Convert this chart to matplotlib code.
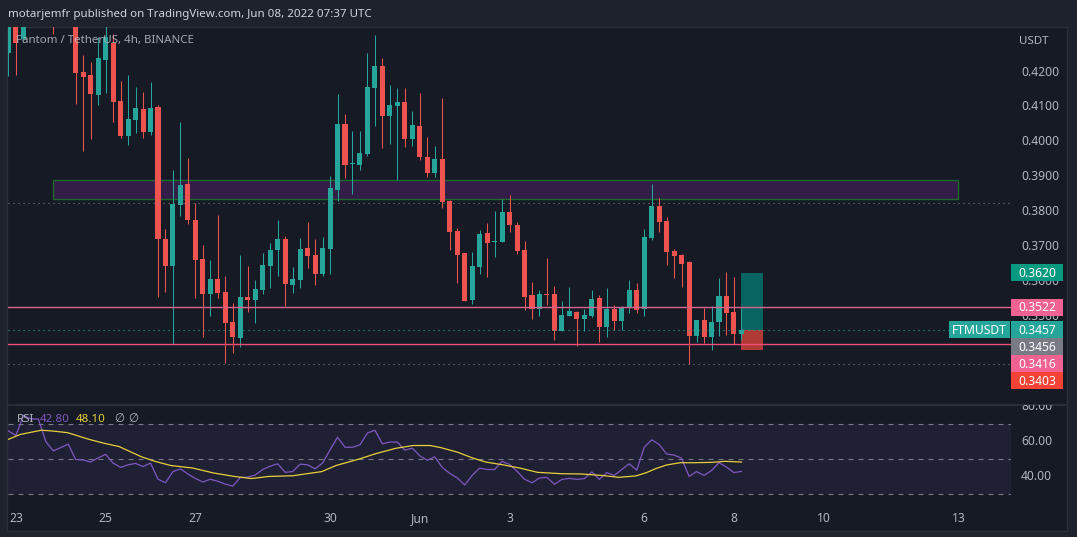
import numpy as np
import matplotlib.pyplot as plt
from matplotlib.patches import Rectangle
from matplotlib.transforms import Bbox, TransformedBbox

plt.rcParams['font.family'] = ['Noto Sans', 'DejaVu Sans']

# FTM/USDT 4h candles (first ones run above the pane)
opens = [0.4251, 0.4340, 0.4290, 0.4345, 0.4372, 0.4410, 0.4380, 0.4345, 0.4366, 0.4355,
         0.4195, 0.4187, 0.4130, 0.4231, 0.4278, 0.4112, 0.4012, 0.4058, 0.4089, 0.4023,
         0.4095, 0.3717, 0.3640, 0.3815, 0.3875, 0.3771, 0.3660, 0.3560, 0.3602, 0.3565,
         0.3479, 0.3434, 0.3551, 0.3543, 0.3572, 0.3640, 0.3686, 0.3717, 0.3586, 0.3600,
         0.3691, 0.3671, 0.3618, 0.3688, 0.3858, 0.4046, 0.3931, 0.3930, 0.3961, 0.4150,
         0.4213, 0.4071, 0.4099, 0.4110, 0.4005, 0.4041, 0.3952, 0.3907, 0.3946, 0.3826,
         0.3740, 0.3677, 0.3543, 0.3638, 0.3734, 0.3709, 0.3709, 0.3794, 0.3757, 0.3685,
         0.3556, 0.3517, 0.3560, 0.3559, 0.3454, 0.3497, 0.3508, 0.3489, 0.3496, 0.3548,
         0.3466, 0.3516, 0.3483, 0.3520, 0.3571, 0.3516, 0.3721, 0.3812, 0.3769, 0.3683,
         0.3671, 0.3651, 0.3440, 0.3485, 0.3437, 0.3480, 0.3554, 0.3508, 0.3446]
highs = [0.4365, 0.4352, 0.4362, 0.4400, 0.4440, 0.4445, 0.4400, 0.4390, 0.4385, 0.4370,
         0.4244, 0.4224, 0.4296, 0.4330, 0.4304, 0.4170, 0.4187, 0.4152, 0.4138, 0.4167,
         0.4101, 0.3746, 0.3915, 0.4052, 0.3949, 0.3819, 0.3700, 0.3657, 0.3786, 0.3611,
         0.3534, 0.3671, 0.3640, 0.3600, 0.3677, 0.3705, 0.3771, 0.3725, 0.3637, 0.3720,
         0.3766, 0.3717, 0.3723, 0.3898, 0.4134, 0.4075, 0.4026, 0.4026, 0.4250, 0.4302,
         0.4236, 0.4158, 0.4150, 0.4150, 0.4084, 0.4135, 0.4009, 0.3984, 0.4121, 0.3830,
         0.3749, 0.3677, 0.3680, 0.3743, 0.3763, 0.3797, 0.3832, 0.3843, 0.3766, 0.3711,
         0.3594, 0.3571, 0.3663, 0.3582, 0.3539, 0.3580, 0.3511, 0.3516, 0.3571, 0.3556,
         0.3577, 0.3528, 0.3525, 0.3600, 0.3591, 0.3746, 0.3875, 0.3835, 0.3780, 0.3688,
         0.3674, 0.3654, 0.3485, 0.3519, 0.3525, 0.3605, 0.3622, 0.3608, 0.3519]
lows = [0.4185, 0.4187, 0.4288, 0.4330, 0.4355, 0.4360, 0.4306, 0.4330, 0.4335, 0.4104,
        0.3970, 0.4004, 0.4102, 0.4136, 0.4053, 0.4007, 0.3987, 0.4022, 0.4007, 0.4016,
        0.3552, 0.3566, 0.3416, 0.3784, 0.3760, 0.3549, 0.3437, 0.3497, 0.3549, 0.3363,
        0.3391, 0.3408, 0.3509, 0.3477, 0.3560, 0.3577, 0.3612, 0.3526, 0.3563, 0.3577,
        0.3634, 0.3585, 0.3612, 0.3618, 0.3827, 0.3893, 0.3847, 0.3916, 0.3956, 0.4042,
        0.3979, 0.3990, 0.3886, 0.3982, 0.3985, 0.3944, 0.3896, 0.3896, 0.3807, 0.3686,
        0.3592, 0.3540, 0.3532, 0.3618, 0.3609, 0.3666, 0.3709, 0.3737, 0.3675, 0.3515,
        0.3489, 0.3497, 0.3529, 0.3429, 0.3454, 0.3497, 0.3412, 0.3454, 0.3494, 0.3423,
        0.3437, 0.3457, 0.3457, 0.3506, 0.3506, 0.3497, 0.3715, 0.3738, 0.3642, 0.3606,
        0.3580, 0.3360, 0.3423, 0.3420, 0.3400, 0.3440, 0.3443, 0.3417, 0.3429]
closes = [0.4340, 0.4279, 0.4345, 0.4372, 0.4410, 0.4380, 0.4345, 0.4366, 0.4355, 0.4193,
          0.4182, 0.4133, 0.4235, 0.4297, 0.4111, 0.4012, 0.4061, 0.4092, 0.4023, 0.4092,
          0.3718, 0.3640, 0.3818, 0.3872, 0.3771, 0.3657, 0.3560, 0.3602, 0.3563, 0.3477,
          0.3437, 0.3551, 0.3542, 0.3574, 0.3642, 0.3685, 0.3717, 0.3589, 0.3602, 0.3688,
          0.3668, 0.3618, 0.3691, 0.3863, 0.4046, 0.3929, 0.3932, 0.3963, 0.4152, 0.4213,
          0.4071, 0.4101, 0.4110, 0.4005, 0.4044, 0.3953, 0.3907, 0.3946, 0.3824, 0.3738,
          0.3672, 0.3540, 0.3640, 0.3731, 0.3706, 0.3710, 0.3794, 0.3757, 0.3684, 0.3552,
          0.3517, 0.3559, 0.3558, 0.3455, 0.3499, 0.3511, 0.3489, 0.3499, 0.3545, 0.3466,
          0.3516, 0.3483, 0.3522, 0.3571, 0.3514, 0.3723, 0.3812, 0.3767, 0.3681, 0.3669,
          0.3646, 0.3440, 0.3485, 0.3437, 0.3479, 0.3554, 0.3506, 0.3446, 0.3457]

rsi = [66.1, 63.5, 75.0, 73.0, 73.0, 60.0, 54.6, 56.5, 58.5, 49.6,
       49.4, 48.2, 50.6, 52.6, 47.6, 45.1, 46.6, 47.4, 45.6, 47.6,
       38.3, 36.3, 42.7, 44.3, 41.3, 38.7, 36.7, 38.3, 37.1, 35.5,
       34.3, 39.3, 39.5, 40.7, 43.9, 45.8, 47.2, 42.3, 42.7, 47.0,
       46.6, 44.3, 47.6, 55.2, 62.5, 56.7, 56.7, 58.1, 64.9, 66.5,
       58.7, 59.7, 59.7, 55.0, 56.2, 51.8, 49.2, 51.2, 45.1, 41.7,
       39.1, 35.0, 40.5, 44.7, 43.9, 43.9, 48.6, 46.8, 42.9, 38.3,
       36.3, 39.0, 39.4, 35.4, 38.2, 38.8, 38.2, 38.6, 42.5, 38.2,
       42.1, 40.5, 43.9, 47.2, 43.5, 56.7, 61.0, 58.3, 52.8, 52.2,
       50.4, 39.9, 42.7, 40.5, 43.3, 47.8, 45.3, 42.1, 42.8]

# RSI moving average, read at points along the yellow line
ma_x = [-0.1, 1.6, 4.4, 5.8, 7.9, 10.9, 12.7, 14.8, 17.8, 19.6, 21.7, 24.7, 27.4, 30.2, 32.5,
        34.8, 38.0, 41.9, 43.8, 46.8, 49.1, 51.8, 54.1, 56.4, 57.8, 60.1, 62.0, 63.8, 66.1,
        68.4, 70.7, 73.8, 76.6, 79.3, 81.6, 83.9, 85.3, 86.6, 88.0, 89.8, 91.7, 94.0, 95.8, 98.0]
ma_v = [61.1, 64.1, 66.5, 66.1, 65.1, 61.1, 59.1, 57.1, 51.2, 48.6, 46.2, 44.7, 41.9, 39.9, 38.7,
        39.9, 40.3, 42.7, 46.2, 49.8, 53.0, 56.1, 57.7, 57.7, 56.5, 53.8, 50.6, 48.2, 46.6,
        44.7, 42.3, 41.5, 41.3, 40.5, 39.4, 40.2, 42.1, 44.5, 46.5, 47.8, 47.8, 48.0, 48.6, 48.2]

day_ticks = [1, 13, 25, 43, 55, 67, 85, 97, 109, 127]
day_labels = ['23', '25', '27', '30', 'Jun', '3', '6', '8', '10', '13']
price_ticks = [0.42, 0.41, 0.40, 0.39, 0.38, 0.37, 0.36, 0.35]
rsi_ticks = [80, 60, 40]

zone_lo, zone_hi = 0.3832, 0.3886
zone_start, zone_end = 6.0, 126.9
level_lines = [0.3522, 0.3416]
dotted_levels = [0.3820, 0.3359]
last_price = 0.3457
entry, target, stop = 0.3457, 0.3620, 0.3400
pos_start, pos_end = 97.9, 100.9

# layout (pixels)
W, H = 1077, 537
L, R = 8, 1011
T, B = 27, 404
T2, B2 = 405, 500
X0, STEP = 8.4, 7.48
BG, FRAME, LINE, TXT = '#161a25', '#1e222d', '#2a2e39', '#b2b5be'
UP, DOWN = '#26a69a', '#ef5350'
FS = 8.7
FS_T = 8.3

ytop = 0.42 + (70.5 - T) / 3490
ybot = 0.42 - (B - 70.5) / 3490
rtop = 50 + (458.9 - T2) / 1.7375
rbot = 50 - (B2 - 458.9) / 1.7375


def fx(px):
    return px / W


def fy(py):
    return 1 - py / H


def price_px(p):
    return T + (ytop - p) / (ytop - ybot) * (B - T)


def rsi_px(v):
    return T2 + (rtop - v) / (rtop - rbot) * (B2 - T2)


fig = plt.figure(figsize=(W / 100, H / 100), dpi=100, facecolor=FRAME)

back = fig.add_axes([0, 0, 1, 1], zorder=0)
back.set_xlim(0, W)
back.set_ylim(H, 0)
back.axis('off')
back.add_patch(Rectangle((7, 27), 1060, 504, facecolor=BG, edgecolor=LINE, lw=1))
back.plot([7, 1067], [404.5, 404.5], color=LINE, lw=1.5)

xl = ((L - X0) / STEP, (R - X0) / STEP)

# --- price pane ---
ax = fig.add_axes([fx(L), fy(B), (R - L) / W, (B - T) / H], zorder=1)
ax.set_facecolor('none')
ax.set_xlim(*xl)
ax.set_ylim(ybot, ytop)
for s in ax.spines.values():
    s.set_visible(False)
ax.set_xticks([])
ax.yaxis.tick_right()
ax.set_yticks(price_ticks, [f'{v:.4f}' for v in price_ticks])
ax.tick_params(axis='y', length=0, pad=7.2, labelcolor=TXT, labelsize=FS)

o = np.array(opens)
c = np.array(closes)
idx = np.arange(len(o))
cols = np.where(c >= o, UP, DOWN)

ax.add_patch(Rectangle((zone_start, zone_lo), zone_end - zone_start, zone_hi - zone_lo,
                       facecolor='#321e46', edgecolor='#1f6a2b', lw=1, zorder=1))
ax.add_patch(Rectangle((pos_start, entry), pos_end - pos_start, target - entry,
                       facecolor='#086460', lw=0, zorder=2))
ax.add_patch(Rectangle((pos_start, stop), pos_end - pos_start, entry - stop,
                       facecolor='#b03a35', lw=0, zorder=2))

ax.vlines(idx, lows, highs, colors=cols, lw=0.75, zorder=3)
ax.bar(idx, np.maximum(np.abs(c - o), 0.0003), bottom=np.minimum(o, c), width=0.67,
       color=cols, lw=0, zorder=4)

ax.axhline(level_lines[0], color='#d9638c', lw=1, zorder=5)
ax.axhline(level_lines[1], color='#f04d78', lw=1, zorder=5)
for lv in dotted_levels:
    ax.axhline(lv, color='#787b86', lw=0.8, ls=(0, (1, 3.5)), zorder=5)
ax.axhline(last_price, color=UP, lw=0.8, ls=(0, (1, 3.5)), zorder=5)

# --- RSI pane ---
rx = fig.add_axes([fx(L), fy(B2), (R - L) / W, (B2 - T2) / H], zorder=1)
rx.set_facecolor('none')
rx.set_xlim(*xl)
rx.set_ylim(rbot, rtop)
for s in rx.spines.values():
    s.set_visible(False)
rx.set_yticks([])
rx.axhspan(30, 70, color='#7e57c2', alpha=0.1, lw=0)
for v in (70, 50, 30):
    rx.axhline(v, color='#787b86', lw=0.8, ls=(0, (4.5, 4.5)))
rx.plot(idx, rsi, color='#7e57c2', lw=0.9)
rx.plot(ma_x, ma_v, color='#e9cf3b', lw=0.9)
rx.set_xticks(day_ticks, day_labels)
rx.tick_params(axis='x', length=0, pad=8.5, labelcolor=TXT, labelsize=FS)
for lab in rx.get_xticklabels():
    if lab.get_text() == 'Jun':
        lab.set_fontweight('bold')

# --- overlay texts and tags ---
ov = fig.add_axes([0, 0, 1, 1], zorder=5)
ov.set_xlim(0, W)
ov.set_ylim(H, 0)
ov.axis('off')

ov.text(8, 14, 'motarjemfr published on TradingView.com, Jun 08, 2022 07:37 UTC',
        color='#d1d4dc', fontsize=FS_T, va='center', ha='left')
ov.text(16, 41, 'Fantom / TetherUS, 4h, BINANCE', color=TXT, fontsize=FS_T, va='center', alpha=0.9)
ov.text(1019, 41, 'USDT', color=TXT, fontsize=FS_T, va='center')

ov.text(16.5, 420, 'RSI', color=TXT, fontsize=FS_T, va='center')
ov.text(40, 420, '42.80', color='#7e57c2', fontsize=FS_T, va='center')
ov.text(76, 420, '48.10', color='#e9cf3b', fontsize=FS_T, va='center', fontweight='bold')
ov.text(114, 420, '∅', color=TXT, fontsize=FS_T, va='center')
ov.text(128, 420, '∅', color=TXT, fontsize=FS_T, va='center')

clip = TransformedBbox(Bbox([[0, fy(B2)], [1, fy(T2)]]), fig.transFigure)
for v in rsi_ticks:
    t = ov.text(1021, rsi_px(v), f'{v:.2f}', color=TXT, fontsize=FS, va='center')
    t.set_clip_box(clip)
    t.set_clip_on(True)


def tag(x0, x1, yc, color, text):
    ov.add_patch(Rectangle((x0, yc - 8.5), x1 - x0, 17, facecolor=color, lw=0))
    ov.text((x0 + x1) / 2, yc + 0.5, text, color='white', fontsize=FS, fontweight='bold',
            ha='center', va='center')


tag(1011, 1063, price_px(target), '#089981', f'{target:.4f}')
tag(1011, 1063, price_px(level_lines[0]), '#f06292', f'{level_lines[0]:.4f}')
y_last = price_px(last_price)
tag(949, 1010, y_last, UP, 'FTMUSDT')
tag(1011, 1063, y_last, UP, f'{last_price:.4f}')
tag(1011, 1063, y_last + 17, '#787b86', '0.3456')
tag(1011, 1063, y_last + 34, '#f06292', f'{level_lines[1]:.4f}')
tag(1011, 1063, y_last + 51, '#f44336', '0.3403')

fig.savefig('out.png', dpi=100, facecolor=FRAME)
